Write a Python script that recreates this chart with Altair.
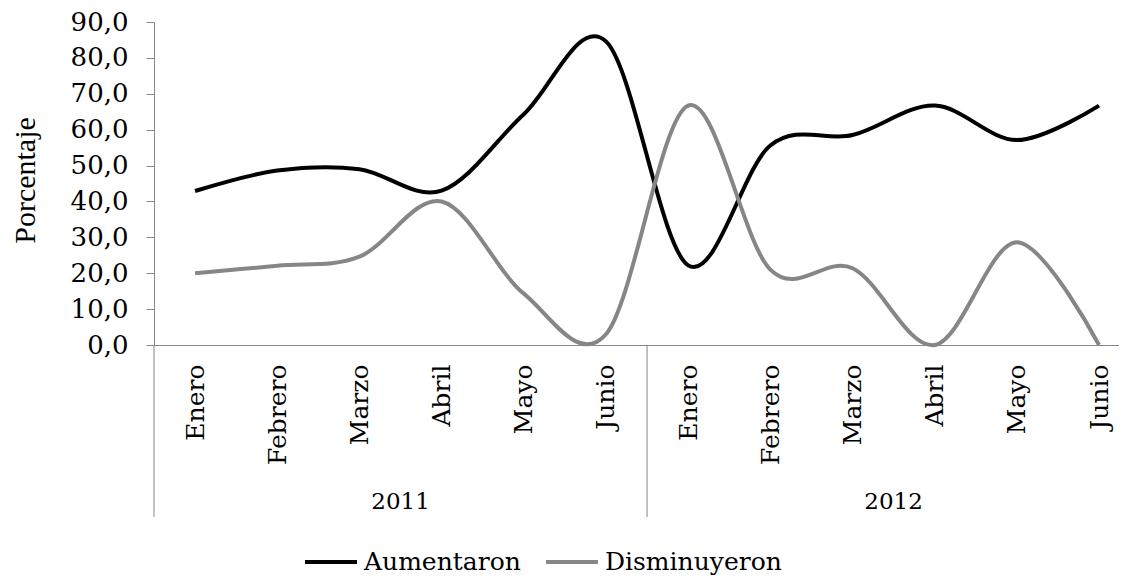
import altair as alt
import pandas as pd

months = ["Enero", "Febrero", "Marzo", "Abril", "Mayo", "Junio",
          "Enero", "Febrero", "Marzo", "Abril", "Mayo", "Junio"]
years = ["2011", "2012"]
series_names = ["Aumentaron", "Disminuyeron"]
aumentaron = [42.9, 48.6, 49.0, 43.0, 64.3, 84.6, 22.2, 55.6, 58.5, 66.7, 57.1, 66.7]
disminuyeron = [20.0, 22.1, 24.6, 40.0, 14.3, 3.0, 66.7, 21.0, 21.4, 0.0, 28.6, 0.0]
y_ticks = [0, 10, 20, 30, 40, 50, 60, 70, 80, 90]

W, H = 965, 323
SERIF = "DejaVu Serif"

rows = []
for i, m in enumerate(months):
    rows.append({"idx": i, "mes": m, "serie": series_names[0], "valor": aumentaron[i]})
    rows.append({"idx": i, "mes": m, "serie": series_names[1], "valor": disminuyeron[i]})
df = pd.DataFrame(rows)

# year group boundaries and centers (in category index units)
sep_df = pd.DataFrame({"pos": [-0.5, 5.5, 11.5]})
year_df = pd.DataFrame({"pos": [2.5, 8.5], "anio": years})

label_expr = "[" + ",".join("'%s'" % m for m in months) + "][datum.value]"

xscale = alt.Scale(domain=[-0.5, 11.243], nice=False, zero=False)

x_axis = alt.Axis(
    values=list(range(12)), labelExpr=label_expr, labelAngle=270,
    labelFont=SERIF, labelFontSize=25, labelColor="black",
    labelPadding=19, ticks=False, tickSize=0, grid=False,
    domainColor="#868686", domainWidth=1, title=None, labelOverlap=False,
    labelBound=False, labelFlush=False,
)
y_axis = alt.Axis(
    values=y_ticks, labelExpr="replace(format(datum.value, '.1f'), '.', ',')",
    labelFont=SERIF, labelFontSize=26, labelColor="black", labelPadding=18,
    tickSize=8, tickColor="#868686", domainColor="#868686", grid=False,
    title="Porcentaje", titleFont="Liberation Serif", titleFontSize=30,
    titleFontWeight="normal", titleColor="black", titleX=-129, titleY=158,
    titleAngle=270, titleAlign="center", titleBaseline="middle",
)

lines = alt.Chart(df).mark_line(interpolate="cardinal", strokeWidth=4).encode(
    x=alt.X("idx:Q", scale=xscale, axis=x_axis),
    y=alt.Y("valor:Q", scale=alt.Scale(domain=[0, 90], nice=False), axis=y_axis),
    color=alt.Color(
        "serie:N",
        scale=alt.Scale(domain=series_names, range=["#000000", "#868686"]),
        legend=alt.Legend(
            orient="none", legendX=149, legendY=512, direction="horizontal",
            title=None, symbolType="stroke", symbolSize=2700, symbolStrokeWidth=4,
            labelFont=SERIF, labelFontSize=25, labelColor="black",
            columnPadding=17, labelOffset=5, labelLimit=400,
        ),
    ),
    detail="serie:N",
)

seps = alt.Chart(sep_df).mark_rule(color="#868686", strokeWidth=1).encode(
    x=alt.X("pos:Q", scale=xscale),
    y=alt.value(H),
    y2=alt.value(H + 172),
)

year_text = alt.Chart(year_df).mark_text(
    font=SERIF, fontSize=23, color="black", baseline="middle", align="center"
).encode(
    x=alt.X("pos:Q", scale=xscale),
    y=alt.value(H + 157),
    text="anio:N",
)

chart = alt.layer(lines, seps, year_text).properties(
    width=W, height=H,
    autosize=alt.AutoSizeParams(type="none"),
    padding={"left": 146, "top": 14, "right": 0, "bottom": 232},
).configure_view(stroke=None)

chart.save("out.html", embed_options={"renderer": "svg", "actions": False})
